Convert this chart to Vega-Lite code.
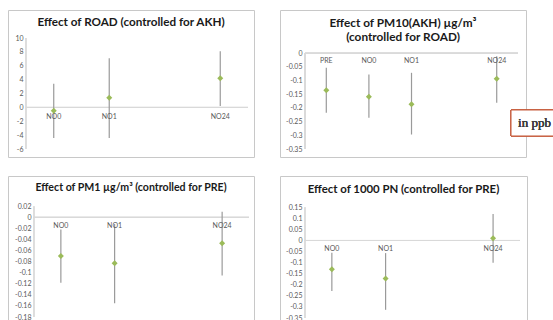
{
  "$schema": "https://vega.github.io/schema/vega-lite/v6.json",
  "background": "white",
  "padding": {"left": 7, "top": 9, "right": 0, "bottom": 0},
  "config": {
    "view": {"stroke": "#c8c8c8", "strokeWidth": 1},
    "font": "Lato",
    "title": {"font": "Lato", "fontWeight": "bold", "fontSize": 12, "color": "#1a1a1a", "anchor": "middle", "frame": "group", "lineHeight": 14},
    "axisY": {"domain": false, "ticks": false, "grid": false, "title": null, "tickCount": 30, "labelFontSize": 7, "labelColor": "#595959", "labelFont": "Lato", "labelPadding": 3, "labelOverlap": false, "labelBound": false, "labelExpr": "datum.value + ''"},
    "text": {"font": "Lato", "fontSize": 7, "color": "#595959"}
  },
  "datasets": {
    "road": [
      {"cat": "NO0", "est": -0.5, "lo": -4.4, "hi": 3.4},
      {"cat": "NO1", "est": 1.4, "lo": -4.4, "hi": 7.1},
      {"cat": "NO24", "est": 4.2, "lo": 0.2, "hi": 8.1}
    ],
    "pm10": [
      {"cat": "PRE", "est": -0.136, "lo": -0.218, "hi": -0.054},
      {"cat": "NO0", "est": -0.159, "lo": -0.236, "hi": -0.078},
      {"cat": "NO1", "est": -0.187, "lo": -0.297, "hi": -0.072},
      {"cat": "NO24", "est": -0.094, "lo": -0.181, "hi": -0.012}
    ],
    "pm1": [
      {"cat": "NO0", "est": -0.07, "lo": -0.118, "hi": -0.022},
      {"cat": "NO1", "est": -0.083, "lo": -0.155, "hi": -0.012},
      {"cat": "NO24", "est": -0.047, "lo": -0.105, "hi": 0.01}
    ],
    "pn": [
      {"cat": "NO0", "est": -0.13, "lo": -0.228, "hi": -0.055},
      {"cat": "NO1", "est": -0.172, "lo": -0.313, "hi": -0.057},
      {"cat": "NO24", "est": 0.01, "lo": -0.1, "hi": 0.12}
    ]
  },
  "vconcat": [
    {
      "hconcat": [
        {
          "width": 246, "height": 147,
          "title": {"text": "Effect of ROAD (controlled for AKH)", "offset": -19, "fontSize": 11.7},
          "data": {"name": "road"},
          "encoding": {
            "x": {"field": "cat", "type": "nominal", "axis": null,
                  "scale": {"type": "band", "domain": ["NO0", "NO1", "gap", "NO24"], "paddingInner": 0, "paddingOuter": 0.216, "align": 0.75}}
          },
          "layer": [
            {"mark": {"type": "rule", "color": "#d9d9d9"},
             "encoding": {"x": {"datum": "NO0", "bandPosition": 0}, "y": {"datum": -6, "type": "quantitative",
               "scale": {"domain": [-7.15, 14.04], "nice": false, "zero": false},
               "axis": {"offset": -18, "tickCount": 30, "values": [-6, -4, -2, 0, 2, 4, 6, 8, 10]}}, "y2": {"datum": 10}}},
            {"mark": {"type": "rule", "color": "#d9d9d9"},
             "encoding": {"x": {"datum": "NO0", "bandPosition": 0}, "x2": {"datum": "NO24", "bandPosition": 1}, "y": {"datum": 0, "type": "quantitative"}}},
            {"mark": {"type": "rule", "color": "#9a9a9a", "strokeWidth": 1.2},
             "encoding": {"y": {"field": "lo", "type": "quantitative"}, "y2": {"field": "hi"}}},
            {"mark": {"type": "text", "baseline": "middle", "dy": 10},
             "encoding": {"y": {"datum": 0, "type": "quantitative"}, "text": {"field": "cat"}}},
            {"mark": {"type": "point", "shape": "diamond", "filled": true, "size": 36, "color": "#9bbb59", "opacity": 1},
             "encoding": {"y": {"field": "est", "type": "quantitative"}}}
          ]
        },
        {
          "width": 246, "height": 147,
          "title": {"text": ["Effect of PM10(AKH) µg/m³", "(controlled for ROAD)"], "offset": -34, "fontSize": 11.8},
          "data": {"name": "pm10"},
          "encoding": {
            "x": {"field": "cat", "type": "nominal", "axis": null,
                  "scale": {"type": "band", "domain": ["PRE", "NO0", "NO1", "gap", "NO24"], "paddingInner": 0, "paddingOuter": 0.387, "align": 0.758}}
          },
          "layer": [
            {"mark": {"type": "rule", "color": "#d9d9d9"},
             "encoding": {"x": {"datum": "PRE", "bandPosition": 0}, "y": {"datum": -0.35, "type": "quantitative",
               "scale": {"domain": [-0.379, 0.157], "nice": false, "zero": false},
               "axis": {"offset": -25, "tickCount": 30, "values": [-0.35, -0.3, -0.25, -0.2, -0.15, -0.1, -0.05, 0]}}, "y2": {"datum": 0}}},
            {"mark": {"type": "rule", "color": "#d9d9d9"},
             "encoding": {"x": {"datum": "PRE", "bandPosition": 0}, "x2": {"datum": "NO24", "bandPosition": 1}, "y": {"datum": 0, "type": "quantitative"}}},
            {"mark": {"type": "rule", "color": "#9a9a9a", "strokeWidth": 1.2},
             "encoding": {"y": {"field": "lo", "type": "quantitative"}, "y2": {"field": "hi"}}},
            {"mark": {"type": "text", "baseline": "middle", "dy": 8},
             "encoding": {"y": {"datum": 0, "type": "quantitative"}, "text": {"field": "cat"}}},
            {"mark": {"type": "point", "shape": "diamond", "filled": true, "size": 36, "color": "#9bbb59", "opacity": 1},
             "encoding": {"y": {"field": "est", "type": "quantitative"}}},
            {"mark": {"type": "point", "shape": "M-1,-0.553H1V0.553H-1Z", "size": 2209, "filled": false, "fill": "white", "fillOpacity": 1, "stroke": "#c55a3a", "strokeWidth": 1, "opacity": 1, "xOffset": 37.8},
             "encoding": {"x": {"datum": "NO24"}, "y": {"datum": -0.255, "type": "quantitative"}}},
            {"mark": {"type": "text", "font": "Liberation Serif", "fontWeight": "normal", "fontSize": 13, "color": "#404040", "align": "center", "baseline": "middle", "xOffset": 37.8, "text": "in ppb"},
             "encoding": {"x": {"datum": "NO24"}, "y": {"datum": -0.255, "type": "quantitative"}}}
          ]
        }
      ],
      "spacing": 24
    },
    {
      "hconcat": [
        {
          "width": 246, "height": 146,
          "title": {"text": "Effect of PM1 µg/m³ (controlled for PRE)", "offset": -18, "fontSize": 10.6},
          "data": {"name": "pm1"},
          "encoding": {
            "x": {"field": "cat", "type": "nominal", "axis": null,
                  "scale": {"type": "band", "domain": ["NO0", "NO1", "gap", "NO24"], "paddingInner": 0, "paddingOuter": 0.288, "align": 0.839}}
          },
          "layer": [
            {"mark": {"type": "rule", "color": "#d9d9d9"},
             "encoding": {"x": {"datum": "NO0", "bandPosition": 0}, "y": {"datum": -0.18, "type": "quantitative",
               "scale": {"domain": [-0.189, 0.0745], "nice": false, "zero": false},
               "axis": {"offset": -26, "tickCount": 30, "values": [-0.18, -0.16, -0.14, -0.12, -0.1, -0.08, -0.06, -0.04, -0.02, 0, 0.02]}}, "y2": {"datum": 0.02}}},
            {"mark": {"type": "rule", "color": "#d9d9d9"},
             "encoding": {"x": {"datum": "NO0", "bandPosition": 0}, "x2": {"datum": "NO24", "bandPosition": 1}, "y": {"datum": 0, "type": "quantitative"}}},
            {"mark": {"type": "rule", "color": "#9a9a9a", "strokeWidth": 1.2},
             "encoding": {"y": {"field": "lo", "type": "quantitative"}, "y2": {"field": "hi"}}},
            {"mark": {"type": "text", "baseline": "middle", "dy": 9},
             "encoding": {"y": {"datum": 0, "type": "quantitative"}, "text": {"field": "cat"}}},
            {"mark": {"type": "point", "shape": "diamond", "filled": true, "size": 36, "color": "#9bbb59", "opacity": 1},
             "encoding": {"y": {"field": "est", "type": "quantitative"}}}
          ]
        },
        {
          "width": 247, "height": 146,
          "title": {"text": "Effect of 1000 PN (controlled for PRE)", "offset": -19, "fontSize": 11.4},
          "data": {"name": "pn"},
          "encoding": {
            "x": {"field": "cat", "type": "nominal", "axis": null,
                  "scale": {"type": "band", "domain": ["NO0", "NO1", "gap", "NO24"], "paddingInner": 0, "paddingOuter": 0.298, "align": 0.78}}
          },
          "layer": [
            {"mark": {"type": "rule", "color": "#d9d9d9"},
             "encoding": {"x": {"datum": "NO0", "bandPosition": 0}, "y": {"datum": -0.35, "type": "quantitative",
               "scale": {"domain": [-0.368, 0.291], "nice": false, "zero": false},
               "axis": {"offset": -25, "tickCount": 30, "values": [-0.35, -0.3, -0.25, -0.2, -0.15, -0.1, -0.05, 0, 0.05, 0.1, 0.15]}}, "y2": {"datum": 0.15}}},
            {"mark": {"type": "rule", "color": "#d9d9d9"},
             "encoding": {"x": {"datum": "NO0", "bandPosition": 0}, "x2": {"datum": "NO24", "bandPosition": 1}, "y": {"datum": 0, "type": "quantitative"}}},
            {"mark": {"type": "rule", "color": "#9a9a9a", "strokeWidth": 1.2},
             "encoding": {"y": {"field": "lo", "type": "quantitative"}, "y2": {"field": "hi"}}},
            {"mark": {"type": "text", "baseline": "middle", "dy": 9},
             "encoding": {"y": {"datum": 0, "type": "quantitative"}, "text": {"field": "cat"}}},
            {"mark": {"type": "point", "shape": "diamond", "filled": true, "size": 36, "color": "#9bbb59", "opacity": 1},
             "encoding": {"y": {"field": "est", "type": "quantitative"}}}
          ]
        }
      ],
      "spacing": 24
    }
  ],
  "spacing": 17
}
